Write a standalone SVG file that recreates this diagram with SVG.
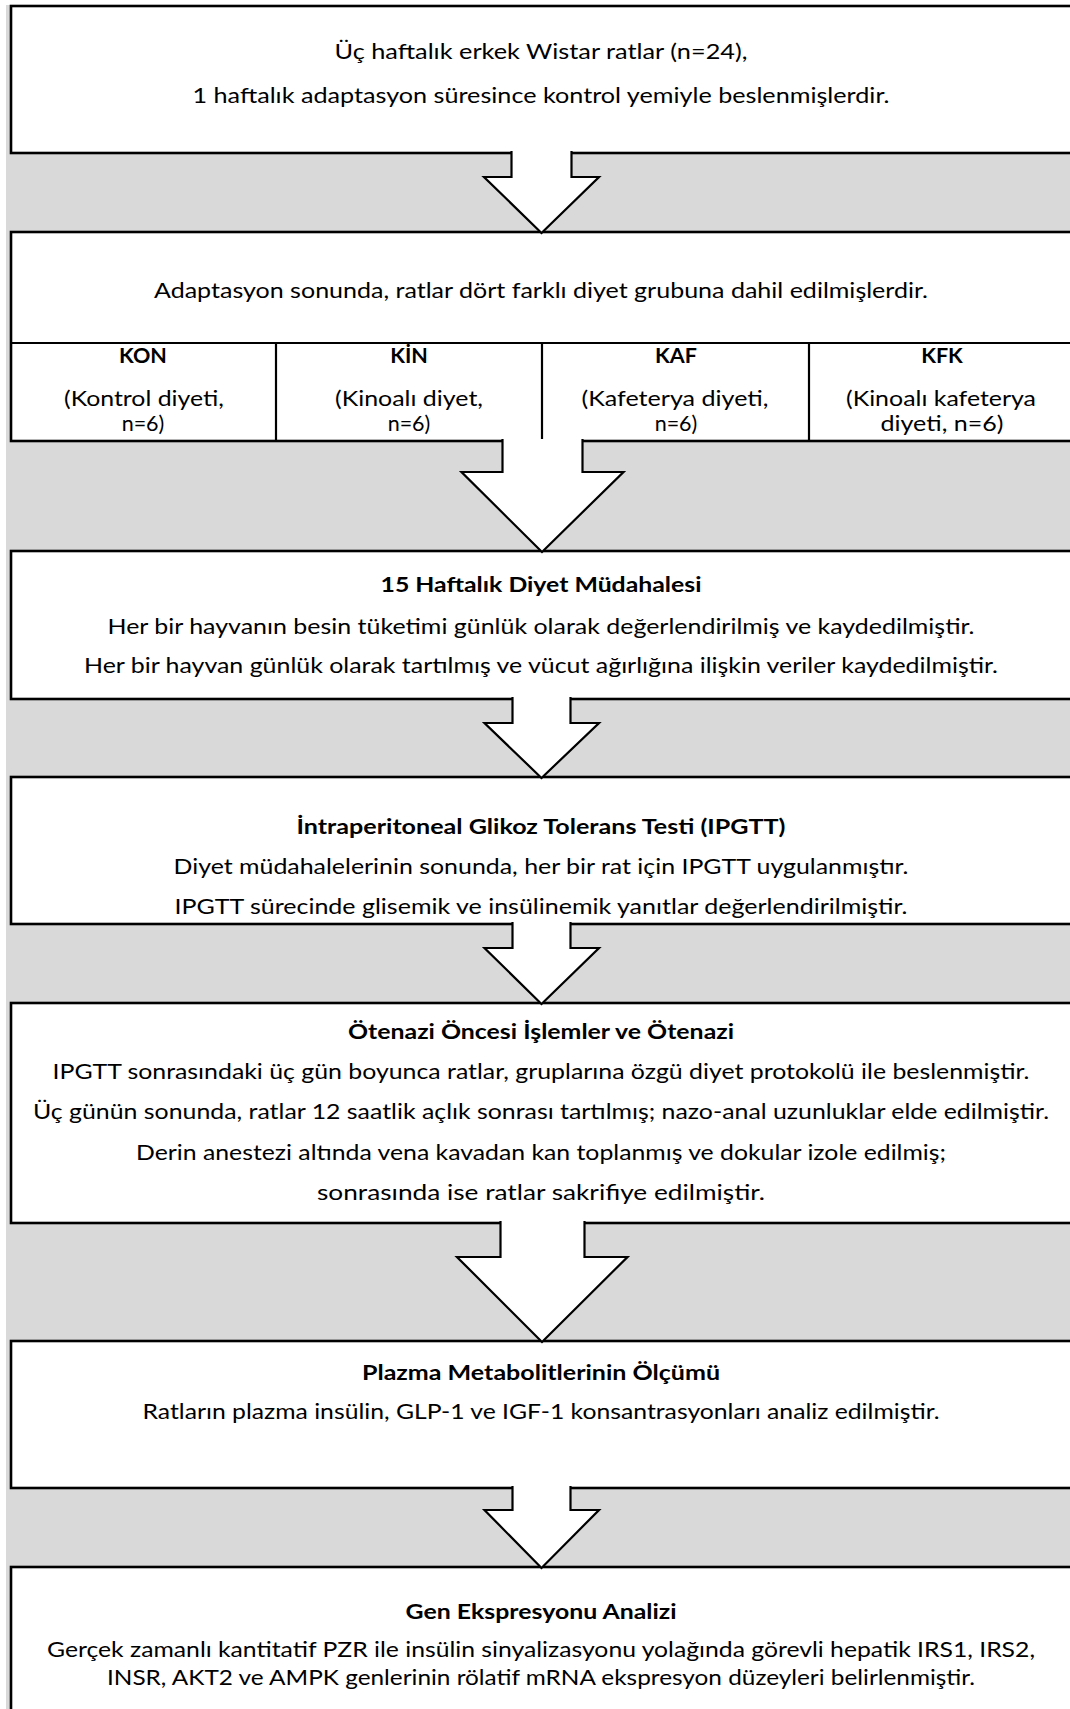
<svg xmlns="http://www.w3.org/2000/svg" width="1070" height="1709" viewBox="0 0 1070 1709">
  <style>
    .box { fill: #ffffff; stroke: #000000; stroke-width: 2.6; }
    .rule { stroke: #000000; stroke-width: 2.2; fill: none; }
    .arrow { fill: #ffffff; stroke: #000000; stroke-width: 2.2; stroke-linejoin: miter; }
    text { font-family: Lato, "Open Sans", "Liberation Sans", sans-serif; font-size: 21.5px; fill: #000000; text-anchor: middle; }
    .b { font-weight: 700; }
  </style>

  <!-- grey band behind the whole flow -->
  <rect x="6" y="5" width="1080" height="1720" fill="#d9d9d9"/>

  <g id="step-animals">
    <rect class="box" x="11" y="6" width="1080" height="147"/>
    <text x="541" y="59" textLength="413" lengthAdjust="spacingAndGlyphs">Üç haftalık erkek Wistar ratlar (n=24),</text>
    <text x="541" y="103" textLength="697" lengthAdjust="spacingAndGlyphs">1 haftalık adaptasyon süresince kontrol yemiyle beslenmişlerdir.</text>
  </g>

  <g id="step-groups">
    <rect class="box" x="11" y="232" width="1080" height="209"/>
    <text x="541" y="298" textLength="774" lengthAdjust="spacingAndGlyphs">Adaptasyon sonunda, ratlar dört farklı diyet grubuna dahil edilmişlerdir.</text>
    <line class="rule" x1="11" y1="343" x2="1080" y2="343"/>
    <line class="rule" x1="276" y1="343" x2="276" y2="441"/>
    <line class="rule" x1="542" y1="343" x2="542" y2="441"/>
    <line class="rule" x1="809" y1="343" x2="809" y2="441"/>
    <g id="group-kon">
      <text class="b" x="143" y="363">KON</text>
      <text x="144" y="406" textLength="160" lengthAdjust="spacingAndGlyphs">(Kontrol diyeti,</text>
      <text x="143" y="431">n=6)</text>
    </g>
    <g id="group-kin">
      <text class="b" x="409" y="363">KİN</text>
      <text x="409" y="406" textLength="148" lengthAdjust="spacingAndGlyphs">(Kinoalı diyet,</text>
      <text x="409" y="431">n=6)</text>
    </g>
    <g id="group-kaf">
      <text class="b" x="676" y="363">KAF</text>
      <text x="675" y="406" textLength="187" lengthAdjust="spacingAndGlyphs">(Kafeterya diyeti,</text>
      <text x="676" y="431">n=6)</text>
    </g>
    <g id="group-kfk">
      <text class="b" x="942" y="363">KFK</text>
      <text x="941" y="406" textLength="190" lengthAdjust="spacingAndGlyphs">(Kinoalı kafeterya</text>
      <text x="942" y="431" textLength="123" lengthAdjust="spacingAndGlyphs">diyeti, n=6)</text>
    </g>
  </g>

  <g id="step-diet">
    <rect class="box" x="11" y="551" width="1080" height="148"/>
    <text class="b" x="541" y="592" textLength="321" lengthAdjust="spacingAndGlyphs">15 Haftalık Diyet Müdahalesi</text>
    <text x="541" y="634" textLength="867" lengthAdjust="spacingAndGlyphs">Her bir hayvanın besin tüketimi günlük olarak değerlendirilmiş ve kaydedilmiştir.</text>
    <text x="541" y="673" textLength="914" lengthAdjust="spacingAndGlyphs">Her bir hayvan günlük olarak tartılmış ve vücut ağırlığına ilişkin veriler kaydedilmiştir.</text>
  </g>

  <g id="step-ipgtt">
    <rect class="box" x="11" y="777" width="1080" height="147"/>
    <text class="b" x="541" y="834" textLength="489" lengthAdjust="spacingAndGlyphs">İntraperitoneal Glikoz Tolerans Testi (IPGTT)</text>
    <text x="541" y="874" textLength="735" lengthAdjust="spacingAndGlyphs">Diyet müdahalelerinin sonunda, her bir rat için IPGTT uygulanmıştır.</text>
    <text x="541" y="914" textLength="733" lengthAdjust="spacingAndGlyphs">IPGTT sürecinde glisemik ve insülinemik yanıtlar değerlendirilmiştir.</text>
  </g>

  <g id="step-euthanasia">
    <rect class="box" x="11" y="1003" width="1080" height="220"/>
    <text class="b" x="541" y="1039" textLength="386" lengthAdjust="spacingAndGlyphs">Ötenazi Öncesi İşlemler ve Ötenazi</text>
    <text x="541" y="1079" textLength="977" lengthAdjust="spacingAndGlyphs">IPGTT sonrasındaki üç gün boyunca ratlar, gruplarına özgü diyet protokolü ile beslenmiştir.</text>
    <text x="541" y="1119" textLength="1016" lengthAdjust="spacingAndGlyphs">Üç günün sonunda, ratlar 12 saatlik açlık sonrası tartılmış; nazo-anal uzunluklar elde edilmiştir.</text>
    <text x="541" y="1160" textLength="810" lengthAdjust="spacingAndGlyphs">Derin anestezi altında vena kavadan kan toplanmış ve dokular izole edilmiş;</text>
    <text x="541" y="1200" textLength="448" lengthAdjust="spacingAndGlyphs">sonrasında ise ratlar sakrifiye edilmiştir.</text>
  </g>

  <g id="step-plasma">
    <rect class="box" x="11" y="1341" width="1080" height="147"/>
    <text class="b" x="541" y="1380" textLength="358" lengthAdjust="spacingAndGlyphs">Plazma Metabolitlerinin Ölçümü</text>
    <text x="541" y="1419" textLength="797" lengthAdjust="spacingAndGlyphs">Ratların plazma insülin, GLP-1 ve IGF-1 konsantrasyonları analiz edilmiştir.</text>
  </g>

  <g id="step-genes">
    <rect class="box" x="11" y="1567" width="1080" height="160"/>
    <text class="b" x="541" y="1619" textLength="271" lengthAdjust="spacingAndGlyphs">Gen Ekspresyonu Analizi</text>
    <text x="541" y="1657" textLength="988" lengthAdjust="spacingAndGlyphs">Gerçek zamanlı kantitatif PZR ile insülin sinyalizasyonu yolağında görevli hepatik IRS1, IRS2,</text>
    <text x="541" y="1685" textLength="868" lengthAdjust="spacingAndGlyphs">INSR, AKT2 ve AMPK genlerinin rölatif mRNA ekspresyon düzeyleri belirlenmiştir.</text>
  </g>

  <!-- block arrows between steps; open at the top so they merge into the box above -->
  <g id="connectors">
    <path class="arrow" d="M511.5,151 V177 H484 L541.5,233 L599,177 H571.5 V151"/>
    <path class="arrow" d="M502.5,439 V472 H461.5 L542,552 L623.5,472 H582.5 V439"/>
    <path class="arrow" d="M512.5,697 V723 H484.5 L541.5,778 L599,723 H570.5 V697"/>
    <path class="arrow" d="M512.5,922 V948 H484.5 L541.5,1004 L599,948 H570.5 V922"/>
    <path class="arrow" d="M500.5,1221 V1257 H457 L542,1342 L627.5,1257 H584.5 V1221"/>
    <path class="arrow" d="M512.5,1486 V1510 H484.5 L541.5,1568 L599,1510 H570.5 V1486"/>
  </g>
</svg>
